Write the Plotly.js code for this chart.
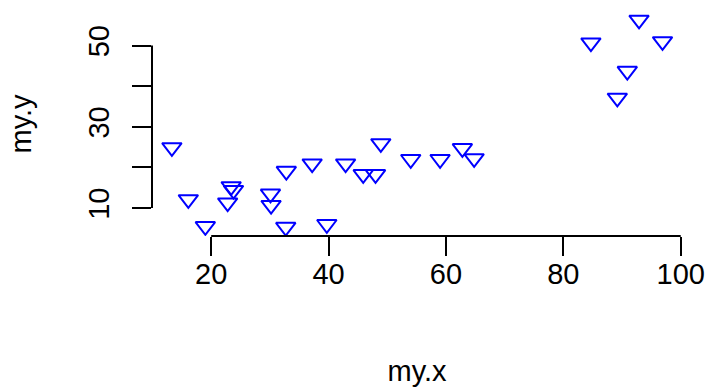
<!DOCTYPE html>
<html>
<head>
<meta charset="utf-8">
<script src="https://cdn.plot.ly/plotly-3.0.1.min.js"></script>
<style>html,body{margin:0;padding:0;background:#fff;}#chart{width:709px;height:387px;}</style>
</head>
<body>
<div id="chart"></div>
<script>
// Data
const myX = [13.3, 16.1, 19.0, 23.4, 23.8, 22.8, 30.1, 30.2, 32.8, 32.7, 37.2, 39.7, 42.9,
             48.9, 45.9, 48.0, 54.0, 59.0, 62.8, 64.8, 84.7, 92.9, 96.9, 90.9, 89.2];
const myY = [24.9, 12.1, 5.5, 15.3, 14.4, 11.3, 13.5, 10.7, 19.1, 5.3, 20.9, 6.0, 20.9,
             25.9, 18.3, 18.3, 22.0, 22.0, 24.7, 22.2, 50.7, 56.3, 51.0, 43.7, 37.1];
const xTicks = [20, 40, 60, 80, 100];
const xTickText = ['20', '40', '60', '80', '100'];
const yTicks = [10, 20, 30, 40, 50];
const yTickText = ['10', '', '30', '', '50'];

const font = {family: 'Liberation Sans, Arial, Helvetica, sans-serif', size: 29, color: '#000'};

const trace = {
  type: 'scatter', mode: 'markers', x: myX, y: myY,
  marker: {symbol: 'triangle-down-open', size: 17, color: '#0000FF', line: {color: '#0000FF', width: 2}},
  hoverinfo: 'x+y'
};

const layout = {
  width: 709, height: 387,
  margin: {l: 152, r: 27, t: 12, b: 151},
  paper_bgcolor: '#fff', plot_bgcolor: '#fff',
  showlegend: false,
  font: font,
  xaxis: {
    range: [9.91, 100.22], showgrid: false, zeroline: false, showline: false,
    tickmode: 'array', tickvals: xTicks, ticktext: xTickText,
    ticks: 'outside', ticklen: 19, tickwidth: 2, tickcolor: '#000',
    tickfont: font, ticklabelstandoff: -7,
    title: {text: 'my.x', font: font, standoff: 71}
  },
  yaxis: {
    range: [3.11, 58.25], showgrid: false, zeroline: false, showline: false,
    tickmode: 'array', tickvals: yTicks, ticktext: yTickText,
    ticks: 'outside', ticklen: 19, tickwidth: 2, tickcolor: '#000',
    tickfont: font, tickangle: -90, ticklabelstandoff: 11,
    title: {text: 'my.y', font: font, standoff: 43}
  },
  shapes: [
    {type: 'line', xref: 'x', yref: 'paper', x0: xTicks[0], x1: xTicks[xTicks.length - 1], y0: 0, y1: 0,
     line: {color: '#000', width: 2}},
    {type: 'line', xref: 'paper', yref: 'y', x0: 0, x1: 0, y0: yTicks[0], y1: yTicks[yTicks.length - 1],
     line: {color: '#000', width: 2}}
  ]
};

Plotly.newPlot('chart', [trace], layout, {staticPlot: true, displayModeBar: false});
</script>
</body>
</html>
